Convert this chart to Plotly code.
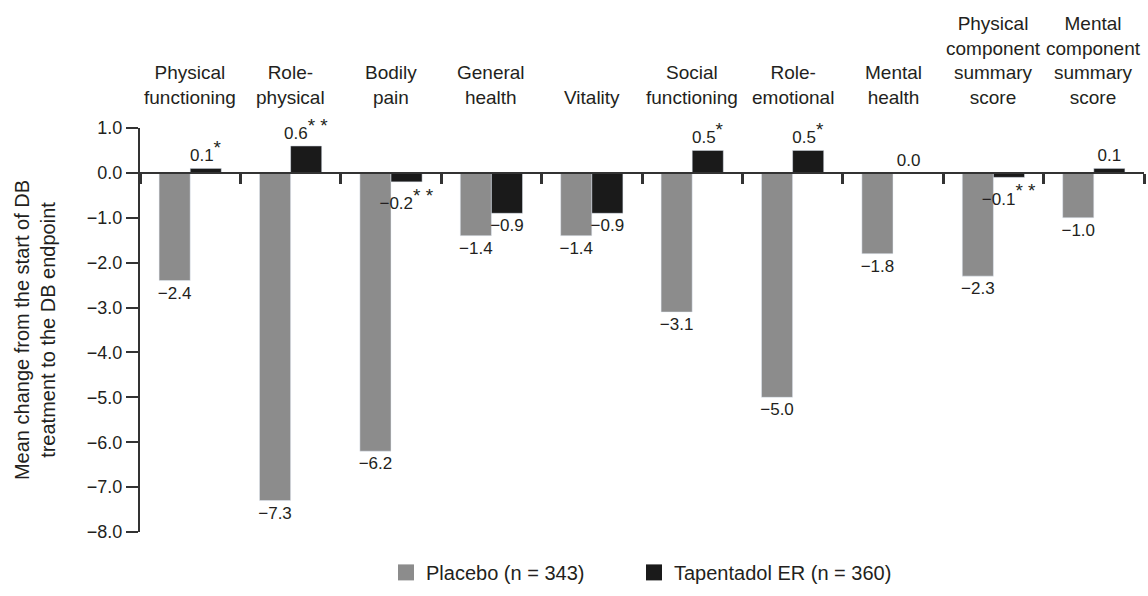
import plotly.graph_objects as go

# SF-36 domains and summary scores
categories = [
    "Physical<br>functioning",
    "Role-<br>physical",
    "Bodily<br>pain",
    "General<br>health",
    "Vitality",
    "Social<br>functioning",
    "Role-<br>emotional",
    "Mental<br>health",
    "Physical<br>component<br>summary<br>score",
    "Mental<br>component<br>summary<br>score",
]

placebo = [-2.4, -7.3, -6.2, -1.4, -1.4, -3.1, -5.0, -1.8, -2.3, -1.0]
tapentadol = [0.1, 0.6, -0.2, -0.9, -0.9, 0.5, 0.5, 0.0, -0.1, 0.1]
tapentadol_sig = ["*", "**", "**", "", "", "*", "*", "", "**", ""]

y_ticks = [1.0, 0.0, -1.0, -2.0, -3.0, -4.0, -5.0, -6.0, -7.0, -8.0]

placebo_name = "Placebo (n = 343)"
tapentadol_name = "Tapentadol ER (n = 360)"

GRAY = "#8c8c8c"
BLACK = "#1a1a1a"
INK = "#231f20"
AXIS = "#333333"
FONT = "Liberation Sans, Arial, Helvetica, sans-serif"


def fmt(v):
    return f"{v:.1f}".replace("-", "\u2212")


def stars(s):
    if not s:
        return ""
    return "<sup><span style='font-size:19px'>" + " ".join(s) + "</span></sup>"


placebo_text = [fmt(v) for v in placebo]
tapentadol_text = [fmt(v) + stars(s) for v, s in zip(tapentadol, tapentadol_sig)]

fig = go.Figure()
fig.add_trace(go.Bar(
    x=categories, y=placebo, name=placebo_name, marker_color=GRAY,
    text=placebo_text, textposition="outside", showlegend=False,
    textfont=dict(size=17, color=INK, family=FONT),
    constraintext="none", cliponaxis=False,
))
fig.add_trace(go.Bar(
    x=categories, y=tapentadol, name=tapentadol_name, marker_color=BLACK,
    text=tapentadol_text, textposition="outside", showlegend=False,
    textfont=dict(size=17, color=INK, family=FONT),
    constraintext="none", cliponaxis=False,
))

# legend entries with square swatches
for name, color, width in [(placebo_name, GRAY, 203), (tapentadol_name, BLACK, 260)]:
    fig.add_trace(go.Scatter(
        x=[None], y=[None], mode="markers", name=name,
        marker=dict(symbol="square", size=20, color=color),
        legendwidth=width,
    ))

y_min, y_max = -8.0, 1.0
zero_pos = (0 - y_min) / (y_max - y_min)

# category labels above the plot area
for cat in categories:
    fig.add_annotation(
        x=cat, xref="x", y=1, yref="paper", yanchor="bottom", yshift=18,
        text=cat, showarrow=False, align="center",
        font=dict(size=19, color=INK, family=FONT),
    )

fig.update_layout(
    width=1148, height=596,
    margin=dict(l=140, r=4, t=128, b=57),
    paper_bgcolor="white", plot_bgcolor="white",
    font=dict(family=FONT, color=INK, size=20),
    barmode="group", bargap=0.38, bargroupgap=0,
    xaxis=dict(
        type="category", anchor="free", position=zero_pos, side="bottom",
        showline=True, linecolor=AXIS, linewidth=2,
        ticks="outside", tickson="boundaries", ticklen=10, tickwidth=3, tickcolor=AXIS,
        showticklabels=False, showgrid=False, zeroline=False,
        range=[-0.5, len(categories) - 0.5],
    ),
    yaxis=dict(
        range=[y_min, y_max], tickvals=y_ticks,
        ticktext=[fmt(v) for v in y_ticks],
        showline=True, linecolor=AXIS, linewidth=2,
        ticks="outside", ticklen=12, tickwidth=2, tickcolor=AXIS,
        tickfont=dict(size=18, color=INK, family=FONT),
        showgrid=False, zeroline=False,
        title=dict(
            text="Mean change from the start of DB<br>treatment to the DB endpoint",
            font=dict(size=20, color=INK, family=FONT), standoff=26,
        ),
    ),
    legend=dict(
        orientation="h", x=0.245, xanchor="left", y=-0.10, yanchor="middle",
        font=dict(size=20, color=INK, family=FONT),
        bgcolor="rgba(0,0,0,0)",
    ),
)

fig.write_html("out.html")
